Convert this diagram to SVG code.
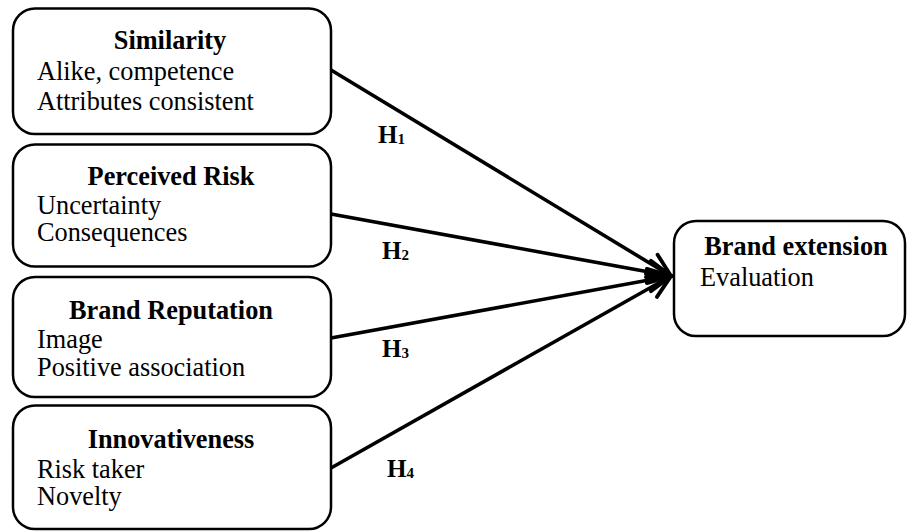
<svg xmlns="http://www.w3.org/2000/svg" width="907" height="531" viewBox="0 0 907 531">
<style>
.box{fill:#fff;stroke:#000;stroke-width:2.5}
.t{font-family:"Liberation Serif","Times New Roman",serif;font-size:26.3px;fill:#000}
.b{font-weight:bold}
.c{text-anchor:middle}
.h{font-family:"Liberation Serif","Times New Roman",serif;font-size:25px;font-weight:bold;fill:#000}
.sub{font-size:15px}
.ln{stroke:#000;stroke-width:3.6;fill:none}
</style>
<defs>
<marker id="arr" markerUnits="userSpaceOnUse" markerWidth="30" markerHeight="30" viewBox="-24 -14 28 28" refX="0" refY="0" orient="auto">
<path d="M-21,-10.5 L0,0 L-21,10.5" fill="none" stroke="#000" stroke-width="3.6" stroke-linecap="round" stroke-linejoin="miter"/>
</marker>
</defs>
<g id="connectors">
<line class="ln" x1="331" y1="70" x2="671" y2="276" marker-end="url(#arr)"/>
<line class="ln" x1="331" y1="214" x2="671" y2="276" marker-end="url(#arr)"/>
<line class="ln" x1="331" y1="338" x2="671" y2="276" marker-end="url(#arr)"/>
<line class="ln" x1="331" y1="468" x2="671" y2="276" marker-end="url(#arr)"/>
<text class="h" x="378" y="143">H<tspan class="sub" dy="1">1</tspan></text>
<text class="h" x="382" y="259">H<tspan class="sub" dy="1">2</tspan></text>
<text class="h" x="382" y="357">H<tspan class="sub" dy="1">3</tspan></text>
<text class="h" x="387" y="477">H<tspan class="sub" dy="1">4</tspan></text>
</g>
<g id="similarity">
<rect class="box" x="13" y="8.5" width="318" height="125.5" rx="22"/>
<text class="t b c" x="170" y="49">Similarity</text>
<text class="t" x="37" y="80">Alike, competence</text>
<text class="t" x="37" y="110">Attributes consistent</text>
</g>
<g id="perceived-risk">
<rect class="box" x="13" y="144.5" width="318" height="122" rx="22"/>
<text class="t b c" x="171" y="185">Perceived Risk</text>
<text class="t" x="37" y="214">Uncertainty</text>
<text class="t" x="37" y="241">Consequences</text>
</g>
<g id="brand-reputation">
<rect class="box" x="13" y="277" width="318" height="120" rx="22"/>
<text class="t b c" x="171" y="319">Brand Reputation</text>
<text class="t" x="37" y="348">Image</text>
<text class="t" x="37" y="376">Positive association</text>
</g>
<g id="innovativeness">
<rect class="box" x="13" y="405.5" width="318" height="123.5" rx="22"/>
<text class="t b c" x="171" y="448">Innovativeness</text>
<text class="t" x="37" y="478">Risk taker</text>
<text class="t" x="37" y="505">Novelty</text>
</g>
<g id="brand-extension">
<rect class="box" x="674" y="221" width="231" height="115" rx="22"/>
<text class="t b c" x="796" y="255">Brand extension</text>
<text class="t" x="700" y="286">Evaluation</text>
</g>
</svg>
